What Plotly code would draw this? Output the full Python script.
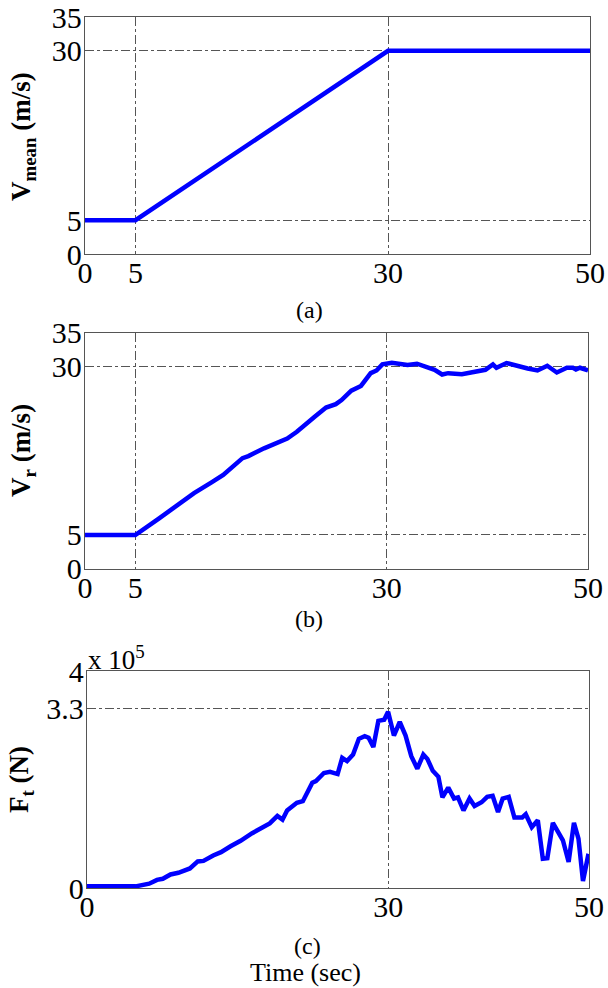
import plotly.graph_objects as go

# ---- data ----
t_mean = [0, 5, 30, 50]
v_mean = [5, 5, 30, 30]

t_vr = [0, 5, 7.37, 8.9, 10.84, 12.58, 13.74, 15.66, 16.24, 17.8, 18.95, 20.1, 21.06,
        22.05, 22.8, 23.96, 24.93, 25.5, 26.47, 27.43, 28.4, 28.98, 29.56, 30.5, 31.3,
        32.06, 33.0, 34.0, 34.75, 35.5, 36.1, 37.46, 38.4, 39.2, 39.8, 40.55, 40.9,
        41.9, 42.8, 44.0, 44.98, 45.95, 46.9, 47.9, 48.5, 48.8, 49.2, 50]
v_r = [5.0, 5.0, 7.47, 9.2, 11.2, 12.8, 13.9, 16.4, 16.7, 17.85, 18.5, 19.3, 20.3,
       21.65, 22.5, 23.9, 24.4, 25.0, 26.4, 27.1, 29.0, 29.4, 30.3, 30.55, 30.4,
       30.2, 30.4, 29.95, 29.5, 28.8, 29.0, 28.85, 29.1, 29.4, 29.5, 30.3, 29.8,
       30.5, 30.1, 29.7, 29.4, 30.1, 29.1, 29.8, 29.8, 29.55, 29.8, 29.4]

t_ft = [0, 4.84, 6.19, 6.97, 7.55, 8.32, 9.1, 9.67, 10.25, 11.03, 11.6, 12.57, 13.35,
        14.3, 15.3, 16.45, 17.6, 18.2, 18.96, 19.47, 19.93, 20.9, 21.5, 21.86, 22.44,
        22.8, 23.6, 24.2, 24.96, 25.42, 25.9, 26.5, 27.08, 27.66, 28.05, 28.52, 29.02,
        29.6, 29.99, 30.57, 31.15, 31.73, 32.3, 32.9, 33.5, 33.9, 34.44, 35.0, 35.4,
        35.98, 36.56, 36.95, 37.5, 38.1, 38.6, 39.3, 39.86, 40.4, 40.94, 41.4, 42.0,
        42.57, 43.35, 43.7, 44.3, 44.9, 45.4, 45.85, 46.4, 47.4, 47.97, 48.5, 48.95,
        49.4, 49.95]
f_t = [0.03, 0.03, 0.08, 0.15, 0.17, 0.25, 0.28, 0.33, 0.36, 0.49, 0.5, 0.6, 0.66,
       0.77, 0.87, 1.01, 1.14, 1.19, 1.33, 1.26, 1.43, 1.57, 1.6, 1.73, 1.94,
       1.97, 2.12, 2.14, 2.1, 2.4, 2.34, 2.46, 2.75, 2.8, 2.77, 2.6, 3.08,
       3.1, 3.25, 2.81, 3.06, 2.81, 2.43, 2.2, 2.46, 2.38, 2.16, 2.05, 1.67,
       1.85, 1.65, 1.67, 1.43, 1.65, 1.51, 1.58, 1.68, 1.7, 1.4, 1.65, 1.68,
       1.3, 1.3, 1.36, 1.12, 1.25, 0.54, 0.55, 1.2, 0.88, 0.48, 1.2, 0.91,
       0.13, 0.63]

xt_ab = [0, 5, 30, 50]
yt_ab = [0, 5, 30, 35]
xt_c = [0, 30, 50]
yt_c = [0, 3.3, 4]
yt_c_text = ["0", "3.3", "4"]

# ---- figure ----
W, H = 608, 988
BLUE = "#0000FF"
fig = go.Figure()
fig.add_trace(go.Scatter(x=t_mean, y=v_mean, mode="lines", line=dict(color=BLUE, width=4.5),
                         xaxis="x", yaxis="y", showlegend=False))
fig.add_trace(go.Scatter(x=t_vr, y=v_r, mode="lines", line=dict(color=BLUE, width=4.5),
                         xaxis="x2", yaxis="y2", showlegend=False))
fig.add_trace(go.Scatter(x=t_ft, y=f_t, mode="lines", line=dict(color=BLUE, width=4.5),
                         xaxis="x3", yaxis="y3", showlegend=False))

serif = "Liberation Serif, Times New Roman, serif"
tickfont = dict(family=serif, size=30, color="black")
common = dict(showline=True, mirror=True, linecolor="#555", linewidth=1.2,
              showgrid=True, gridcolor="#555", gridwidth=1, griddash="dashdot",
              zeroline=False, ticks="", tickfont=tickfont, fixedrange=True,
              automargin=False)
xcommon = dict(common, ticklabelstandoff=-8)
ycommon = dict(common, ticklabelstandoff=-4)

def px(v):
    return v / W

def py(v):
    return 1 - v / H

fig.update_layout(
    template="none",
    width=W, height=H, margin=dict(l=0, r=0, t=0, b=0, autoexpand=False),
    paper_bgcolor="white", plot_bgcolor="white", hovermode=False,
    xaxis=dict(domain=[px(85), px(590)], range=[0, 50], tickvals=xt_ab, anchor="y", **xcommon),
    yaxis=dict(domain=[py(254), py(17)], range=[0, 35], tickvals=yt_ab, anchor="x", **ycommon),
    xaxis2=dict(domain=[px(85), px(588)], range=[0, 50], tickvals=xt_ab, anchor="y2", **xcommon),
    yaxis2=dict(domain=[py(568.7), py(332.7)], range=[0, 35], tickvals=yt_ab, anchor="x2", **ycommon),
    xaxis3=dict(domain=[px(87), px(589)], range=[0, 50], tickvals=xt_c, anchor="y3", **xcommon),
    yaxis3=dict(domain=[py(888), py(671)], range=[0, 4], tickvals=yt_c, ticktext=yt_c_text,
                anchor="x3", **ycommon),
)

ann = []
def lab(text, x, y, size, xanchor="center", yanchor="middle", **kw):
    d = dict(text=text, x=px(x), y=py(y), xref="paper", yref="paper", showarrow=False,
             xanchor=xanchor, yanchor=yanchor,
             font=dict(family=serif, size=size, color="black"))
    d.update(kw)
    ann.append(d)

lab("(a)", 309, 310, 24)
lab("(b)", 309, 619, 24)
lab("(c)", 307, 946, 24)
lab("Time (sec)", 305, 972, 26)
lab("<b>V<sub>mean</sub> (m/s)</b>", 4, 137, 27, xanchor="left", textangle=-90)
lab("<b>V<sub>r</sub> (m/s)</b>", 4, 451, 27, xanchor="left", textangle=-90)
lab("<b>F<sub>t</sub> (N)</b>", 2, 780, 27, xanchor="left", textangle=-90)
lab("x 10<sup>5</sup>", 86, 658, 27, xanchor="left")

fig.update_layout(annotations=ann)
fig.write_html("out.html", config={"displayModeBar": False, "staticPlot": True},
               post_script="document.body.style.margin='0';")
